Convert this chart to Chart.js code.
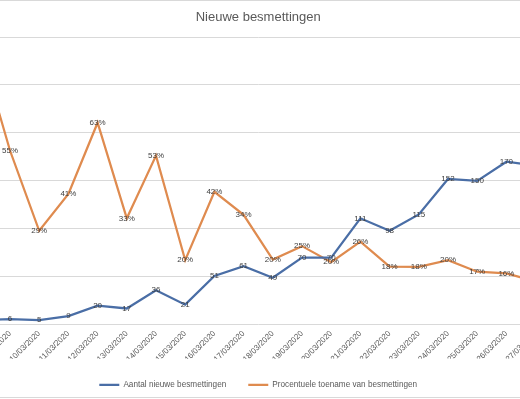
<!DOCTYPE html>
<html>
<head>
<meta charset="utf-8">
<script src="https://cdn.jsdelivr.net/npm/chart.js@4.4.0/dist/chart.umd.min.js"></script>
<style>
    body { margin: 0; background: #fff; }
    #wrap { position: relative; width: 520px; height: 399px; overflow: hidden; background: #fff; }
    #chart-box { position: absolute; left: -40px; top: 0; width: 600px; height: 399px; }
    #frame { position: absolute; left: 0; top: 0; width: 520px; height: 396px; border-top: 1px solid #d9d9d9; border-bottom: 1px solid #d9d9d9; pointer-events: none; }
</style>
</head>
<body>
<div id="wrap">
    <div id="chart-box"><canvas id="ctx"></canvas></div>
    <div id="frame"></div>
</div>
<script>
// dates shown on the axis (08/03 and 27/03 are only partly in view)
const dagen = ['08/03/2020', '09/03/2020', '10/03/2020', '11/03/2020', '12/03/2020', '13/03/2020',
    '14/03/2020', '15/03/2020', '16/03/2020', '17/03/2020', '18/03/2020', '19/03/2020',
    '20/03/2020', '21/03/2020', '22/03/2020', '23/03/2020', '24/03/2020', '25/03/2020',
    '26/03/2020', '27/03/2020']

const nieuwe_besmettingen = [5, 6, 5, 9, 20, 17, 36, 21, 51, 61, 49, 70, 70, 111, 98, 115, 152, 150, 170, 166]

const procentuele_toename = [0.86, 0.545, 0.294, 0.409, 0.632, 0.333, 0.529, 0.202, 0.416, 0.344, 0.204,
    0.246, 0.196, 0.26, 0.182, 0.181, 0.202, 0.166, 0.161, 0.136]

const titel = 'Nieuwe besmettingen'
const reeks_namen = ['Aantal nieuwe besmettingen', 'Procentuele toename van besmettingen']

const blauw = '#4a6ea6'
const oranje = '#df8b4f'
const font_family = '"Liberation Sans", Arial, sans-serif'

// labels in the middle of each point, like Excel "Center"
const dataLabelsPlugin = {
    id: 'dataLabels',
    afterDatasetsDraw: (chart) => {
        const ctx = chart.ctx
        ctx.save()
        ctx.font = '8px ' + font_family
        ctx.fillStyle = '#404040'
        ctx.textAlign = 'center'
        ctx.textBaseline = 'middle'
        chart.data.datasets.forEach((ds, di) => {
            const meta = chart.getDatasetMeta(di)
            meta.data.forEach((pt, i) => {
                let v = ds.data[i]
                let txt = di == 0 ? String(v) : Math.round(v * 100) + '%'
                ctx.fillText(txt, pt.x, pt.y)
            })
        })
        ctx.restore()
    }
}

const config = {
    type: 'line',
    data: {
        labels: dagen,
        datasets: [{
            label: reeks_namen[0],
            data: nieuwe_besmettingen,
            borderColor: blauw,
            backgroundColor: blauw,
            borderWidth: 2.25,
            pointRadius: 0,
            tension: 0,
            yAxisID: 'y'
        }, {
            label: reeks_namen[1],
            data: procentuele_toename,
            borderColor: oranje,
            backgroundColor: oranje,
            borderWidth: 2.25,
            pointRadius: 0,
            tension: 0,
            yAxisID: 'y1'
        }]
    },
    options: {
        responsive: false,
        animation: false,
        layout: {
            padding: { left: 20.8, right: 24.4, top: 0, bottom: 0 }
        },
        scales: {
            x: {
                offset: false,
                grid: { display: false, drawTicks: false },
                border: { display: false },
                ticks: {
                    autoSkip: false,
                    minRotation: 45,
                    maxRotation: 45,
                    padding: 4,
                    color: '#595959',
                    font: { family: font_family, size: 8 }
                },
                afterFit: (scale) => {
                    scale.paddingLeft = 0
                    scale.paddingRight = 0
                    scale.height = 34
                }
            },
            y: {
                position: 'left',
                min: 0,
                max: 300,
                grid: { color: '#d9d9d9', drawTicks: false },
                border: { display: false },
                ticks: { display: false, stepSize: 50 }
            },
            y1: {
                position: 'right',
                display: false,
                min: 0,
                max: 0.9
            }
        },
        plugins: {
            title: {
                display: true,
                text: titel,
                color: '#595959',
                font: { family: font_family, size: 13, weight: 'normal' },
                padding: { top: 10, bottom: 11.4 }
            },
            legend: {
                position: 'bottom',
                labels: {
                    usePointStyle: true,
                    pointStyle: 'line',
                    pointStyleWidth: 20,
                    padding: 22,
                    color: '#595959',
                    font: { family: font_family, size: 8.2 }
                }
            },
            tooltip: { enabled: false }
        }
    },
    plugins: [dataLabelsPlugin]
}

const canvas = document.getElementById('ctx')
canvas.width = 600
canvas.height = 399
const myChart = new Chart(canvas.getContext('2d'), config)
</script>
</body>
</html>
